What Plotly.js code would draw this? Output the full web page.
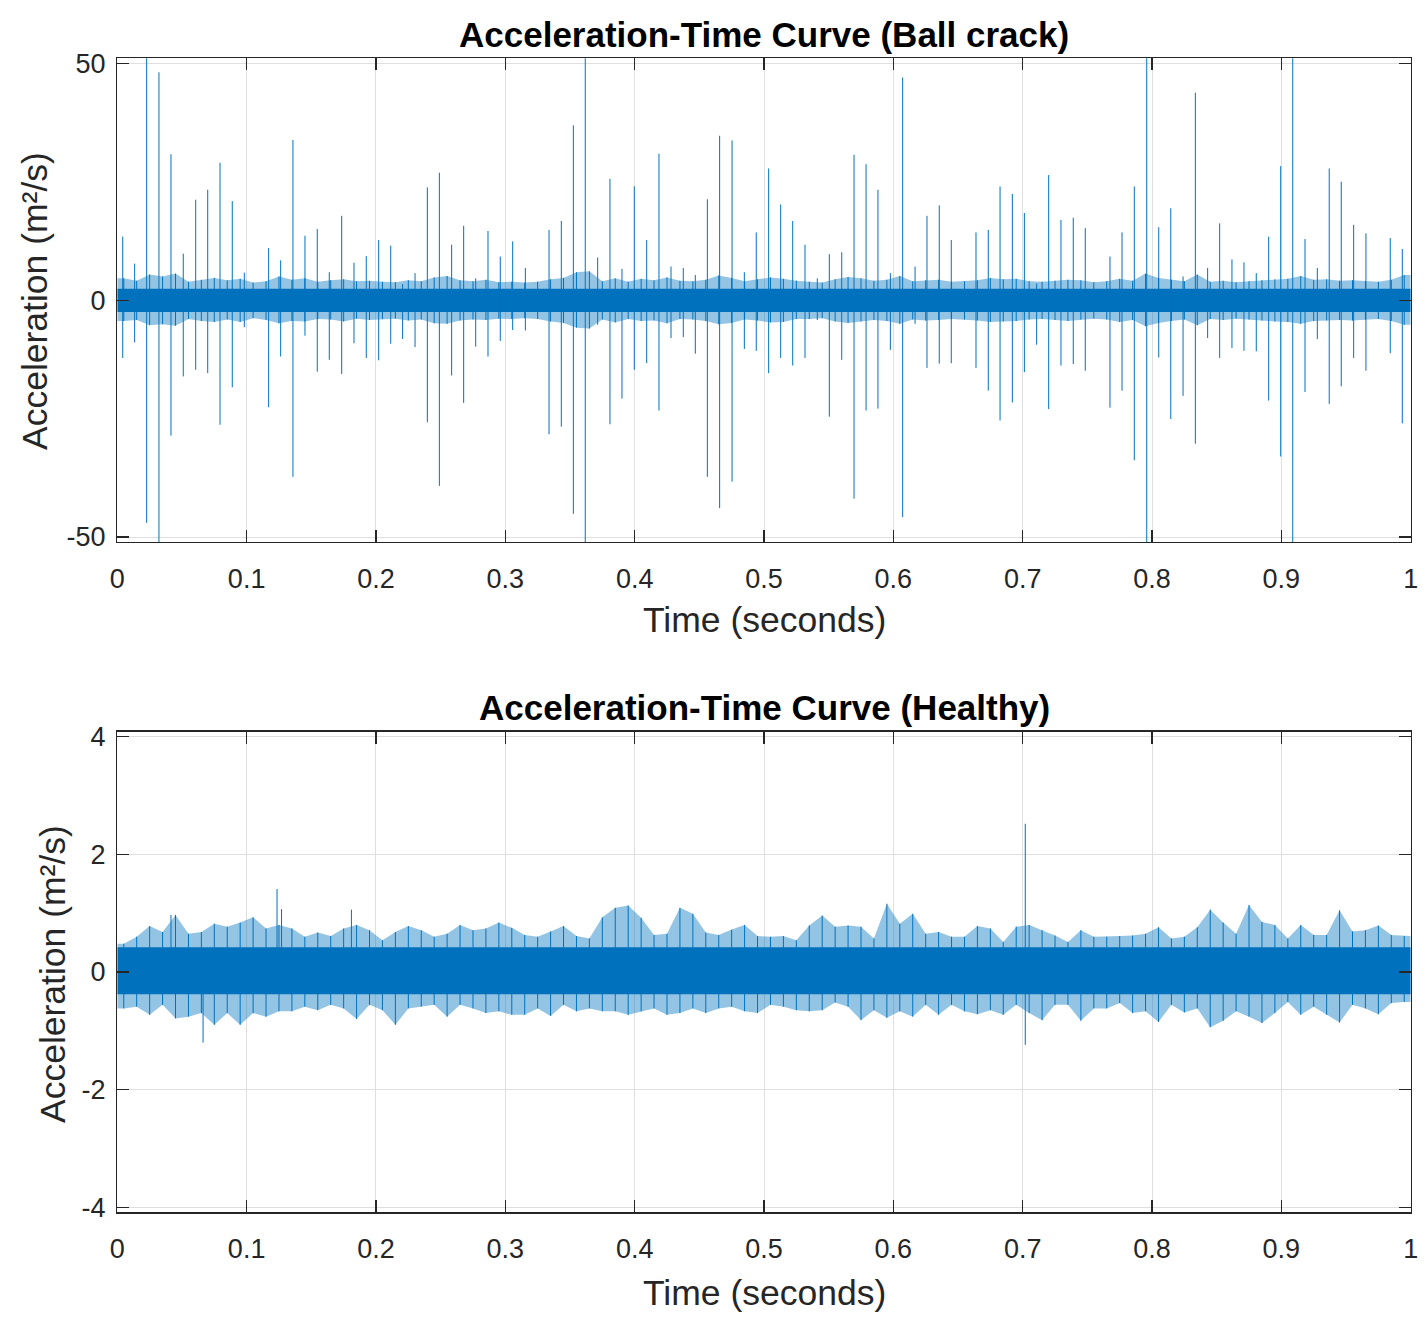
<!DOCTYPE html>
<html><head><meta charset="utf-8">
<script src="https://cdn.plot.ly/plotly-3.0.1.min.js"></script>
<style>html,body{margin:0;padding:0;background:#fff}#chart{width:1427px;height:1319px}</style>
</head><body><div id="chart"></div>
<script>
// ---------- data ----------
var titleTop = "Acceleration-Time Curve (Ball crack)";
var titleBottom = "Acceleration-Time Curve (Healthy)";
var xLabel = "Time (seconds)";
var yLabel = "Acceleration (m\u00B2/s)";
var xTickVals = [0,0.1,0.2,0.3,0.4,0.5,0.6,0.7,0.8,0.9,1];
var xTickText = ["0","0.1","0.2","0.3","0.4","0.5","0.6","0.7","0.8","0.9","1"];
var yTickValsTop = [-50,0,50];
var yTickTextTop = ["-50","0","50"];
var yTickValsBottom = [-4,-2,0,2,4];
var yTickTextBottom = ["-4","-2","0","2","4"];
var yRangeTop = [-51.05,51.05];
var yRangeBottom = [-4.09,4.09];
var binWidth = 0.01; // envelope bins, seconds

// Ball crack: impulse times (s), positive and negative peaks (clipped ones set beyond range)
var crackTimes = [0.0042,0.0134,0.0227,0.0322,0.0415,0.0510,0.0606,0.0699,0.0794,0.0889,0.0982,0.1170,0.1263,0.1358,0.1451,0.1546,0.1639,0.1735,0.1830,0.1925,0.2021,0.2114,0.2206,0.2302,0.2397,0.2490,0.2585,0.2678,0.2771,0.2866,0.2961,0.3057,0.3155,0.3338,0.3433,0.3526,0.3618,0.3714,0.3809,0.3902,0.3997,0.4093,0.4188,0.4281,0.4376,0.4469,0.4562,0.4657,0.4753,0.4848,0.4940,0.5036,0.5129,0.5222,0.5317,0.5412,0.5505,0.5601,0.5696,0.5789,0.5881,0.5977,0.6072,0.6168,0.6260,0.6355,0.6448,0.6639,0.6734,0.6825,0.6920,0.7013,0.7108,0.7201,0.7296,0.7391,0.7484,0.7675,0.7768,0.7863,0.7959,0.8052,0.8145,0.8240,0.8335,0.8430,0.8523,0.8618,0.8711,0.8806,0.8902,0.8995,0.9088,0.9183,0.9278,0.9370,0.9463,0.9559,0.9654,0.9842,0.9935];
var crackHigh = [13.4,7.7,58,48.1,30.8,9.8,21.2,23.3,29.0,20.9,5.8,11.0,8.4,33.8,13.6,15.0,5.9,17.8,7.9,9.3,12.7,11.5,3.4,5.7,23.8,26.9,11.7,15.7,4.6,14.6,9.2,12.4,6.8,14.8,16.7,36.9,58,9.0,25.6,6.6,24.0,12.7,30.9,7.1,6.8,5.3,21.3,34.7,33.7,5.9,14.3,27.8,20.2,16.7,11.7,4.6,9.7,10.1,30.7,28.7,23.3,5.7,47.0,7.1,17.8,20.0,12.7,14.3,14.8,24.0,22.4,18.4,3.5,26.4,16.9,17.4,15.2,9.2,14.3,24.0,58,15.4,19.4,5.0,43.8,6.8,16.2,8.6,8.0,5.7,13.4,28.3,58,12.9,6.8,27.8,25.0,15.9,14.1,13.1,10.8];
var crackLow = [-12.2,-8.9,-47.0,-58,-28.6,-16.1,-14.7,-15.4,-26.3,-18.4,-5.7,-22.6,-11.9,-37.3,-7.5,-15.1,-12.6,-15.6,-9.1,-12.2,-12.7,-9.2,-8.2,-9.9,-25.8,-39.2,-15.9,-21.7,-9.8,-11.9,-8.6,-6.3,-6.4,-28.3,-26.7,-45.1,-58,-5.2,-26.2,-20.8,-14.7,-13.3,-23.3,-8.0,-7.8,-11.3,-37.3,-43.9,-38.3,-10.3,-10.7,-15.4,-12.2,-13.8,-12.2,-4.2,-24.6,-12.6,-41.9,-23.3,-22.9,-10.5,-45.8,-5.0,-14.3,-13.4,-13.3,-14.3,-19.1,-25.4,-21.6,-15.2,-9.4,-23.0,-13.8,-13.5,-14.9,-22.7,-19.1,-33.8,-58,-12.1,-25.1,-20.2,-30.3,-8.0,-12.2,-10.1,-10.7,-10.8,-21.2,-33.0,-58,-19.4,-8.2,-21.9,-18.2,-12.2,-14.9,-11.2,-26.0];
// Ball crack: background noise, dense core and per-bin envelope (0.01 s bins)
var crackCore = [-2.5,2.4];
var crackEnvUp = [4.6,4.1,5.4,5.0,5.6,3.9,4.3,4.7,4.2,4.5,3.7,4.0,5.0,4.3,4.6,3.9,4.2,4.4,4.0,4.1,3.9,3.8,4.2,4.0,4.8,5.1,4.2,4.0,4.3,3.8,3.9,3.7,3.9,4.4,4.7,5.9,6.1,4.0,4.6,3.9,4.5,4.2,4.8,4.1,4.0,4.3,5.2,4.7,4.0,4.4,4.8,4.5,4.1,3.9,3.7,4.4,4.9,4.6,4.1,4.3,5.1,4.0,4.2,4.3,3.9,4.0,4.2,4.7,4.4,4.5,4.0,3.9,4.1,4.3,4.2,3.8,4.0,4.5,4.1,5.6,4.7,4.3,4.0,5.4,3.9,4.1,3.8,4.0,4.2,4.4,4.5,5.1,4.3,4.4,4.1,4.2,4.0,3.9,4.3,5.3];
var crackEnvLo = [-4.4,-4.2,-5.3,-5.1,-5.4,-4.0,-4.4,-4.6,-4.1,-4.6,-3.8,-4.2,-4.9,-4.4,-4.5,-4.0,-4.1,-4.5,-3.9,-4.2,-4.0,-3.9,-4.3,-4.1,-4.9,-5.0,-4.3,-4.1,-4.2,-3.9,-4.0,-3.8,-4.0,-4.5,-4.8,-5.8,-6.0,-4.1,-4.7,-4.0,-4.4,-4.3,-4.9,-4.0,-4.1,-4.4,-5.1,-4.8,-4.1,-4.3,-4.7,-4.6,-4.0,-4.0,-3.8,-4.5,-4.8,-4.5,-4.2,-4.4,-5.0,-4.1,-4.3,-4.2,-4.0,-4.1,-4.3,-4.6,-4.5,-4.4,-4.1,-4.0,-4.2,-4.4,-4.1,-3.9,-4.1,-4.6,-4.2,-5.5,-4.8,-4.4,-4.1,-5.3,-4.0,-4.2,-3.9,-4.1,-4.3,-4.5,-4.6,-5.0,-4.4,-4.3,-4.2,-4.3,-4.1,-4.0,-4.4,-5.2];

// Healthy: per-bin envelope (0.01 s bins), dense core, and isolated spikes
var healthyCore = [-0.38,0.42];
var healthyEnvUp = [0.48,0.60,0.78,0.68,0.97,0.65,0.68,0.82,0.77,0.84,0.93,0.74,0.80,0.74,0.60,0.67,0.61,0.74,0.80,0.71,0.54,0.68,0.78,0.71,0.60,0.65,0.80,0.71,0.74,0.84,0.75,0.63,0.60,0.69,0.78,0.61,0.57,0.93,1.09,1.13,0.92,0.63,0.65,1.09,0.99,0.67,0.63,0.72,0.80,0.61,0.60,0.61,0.54,0.79,0.96,0.77,0.79,0.77,0.57,1.16,0.82,0.99,0.65,0.68,0.60,0.60,0.78,0.74,0.51,0.77,0.80,0.71,0.62,0.51,0.71,0.60,0.60,0.61,0.62,0.65,0.76,0.57,0.60,0.76,1.06,0.84,0.65,1.14,0.85,0.80,0.57,0.80,0.63,0.63,1.05,0.69,0.71,0.79,0.63,0.61];
var healthyEnvLo = [-0.62,-0.59,-0.73,-0.56,-0.79,-0.76,-0.70,-0.90,-0.70,-0.90,-0.70,-0.76,-0.67,-0.67,-0.59,-0.65,-0.56,-0.62,-0.80,-0.56,-0.65,-0.90,-0.62,-0.59,-0.56,-0.76,-0.56,-0.62,-0.70,-0.67,-0.73,-0.73,-0.62,-0.75,-0.56,-0.67,-0.62,-0.67,-0.67,-0.73,-0.67,-0.62,-0.73,-0.70,-0.62,-0.70,-0.62,-0.59,-0.67,-0.70,-0.56,-0.59,-0.65,-0.67,-0.65,-0.52,-0.59,-0.82,-0.65,-0.78,-0.67,-0.76,-0.56,-0.73,-0.56,-0.67,-0.72,-0.65,-0.73,-0.56,-0.70,-0.82,-0.56,-0.56,-0.83,-0.62,-0.62,-0.53,-0.70,-0.67,-0.85,-0.56,-0.69,-0.62,-0.94,-0.83,-0.67,-0.76,-0.87,-0.70,-0.51,-0.73,-0.59,-0.73,-0.86,-0.56,-0.62,-0.72,-0.53,-0.51];
var healthySpikeTimes = [0.0415,0.0663,0.1235,0.1270,0.1810,0.7020];
var healthySpikeHigh = [0.97,0.30,1.41,1.07,1.06,2.52];
var healthySpikeLow = [-0.30,-1.20,-0.30,-0.30,-0.30,-1.24];

// ---------- build traces ----------
var BLUE = "#0072BD";
function binCenters(n){ var c=[]; for(var i=0;i<n;i++) c.push((i+0.5)*binWidth); return c; }
function coreTrace(core, xa, ya){
  return {x:[0,1,1,0,0], y:[core[1],core[1],core[0],core[0],core[1]], xaxis:xa, yaxis:ya,
    mode:"lines", fill:"toself", fillcolor:BLUE, line:{width:0,color:BLUE}, hoverinfo:"skip", showlegend:false};
}
function envTrace(up, lo, xa, ya){
  var c = binCenters(up.length);
  var xs=[0].concat(c,[1],[1],c.slice().reverse(),[0]);
  var ys=[up[0]].concat(up,[up[up.length-1]],[lo[lo.length-1]],lo.slice().reverse(),[lo[0]]);
  return {x:xs, y:ys, xaxis:xa, yaxis:ya, mode:"lines", fill:"toself",
    fillcolor:"rgba(0,114,189,0.42)", line:{width:0,color:"rgba(0,114,189,0)"}, hoverinfo:"skip", showlegend:false};
}
function strokeTrace(times, hi, lo, xa, ya, w, col){
  var xs=[], ys=[];
  for(var i=0;i<times.length;i++){ xs.push(times[i],times[i],null); ys.push(lo[i],hi[i],null); }
  return {x:xs, y:ys, xaxis:xa, yaxis:ya, mode:"lines", line:{width:w,color:col}, hoverinfo:"skip", showlegend:false, connectgaps:false};
}
var traces = [
  envTrace(crackEnvUp, crackEnvLo, "x","y"),
  coreTrace(crackCore,"x","y"),
  strokeTrace(binCenters(crackEnvUp.length), crackEnvUp, crackEnvLo, "x","y",1,BLUE),
  strokeTrace(crackTimes, crackHigh, crackLow, "x","y",1,BLUE),
  envTrace(healthyEnvUp, healthyEnvLo, "x2","y2"),
  coreTrace(healthyCore,"x2","y2"),
  strokeTrace(binCenters(healthyEnvUp.length), healthyEnvUp, healthyEnvLo, "x2","y2",1,BLUE),
  strokeTrace(healthySpikeTimes, healthySpikeHigh, healthySpikeLow, "x2","y2",1,BLUE)
];

// ---------- layout ----------
var W=1427, H=1319;
var FONT = "Liberation Sans, Arial, Helvetica, sans-serif";
var INK = "#262626";
function px(v){ return v/W; } function py(v){ return 1 - v/H; }
function xAxis(domainAnchor){
  return {domain:[px(117.3),px(1410.7)], range:[0,1], anchor:domainAnchor, tickmode:"array",
    tickvals:xTickVals, ticktext:xTickText, ticks:"inside", ticklen:12, tickwidth:1.2, tickcolor:INK,
    showline:true, linecolor:INK, linewidth:1.3, mirror:"ticks", showgrid:true, gridcolor:"#dfdfdf", gridwidth:1,
    zeroline:false, tickfont:{family:FONT,size:27,color:INK}, ticklabelstandoff:12, fixedrange:true};
}
function yAxis(domain, range, tv, tt, anchor){
  return {domain:domain, range:range, anchor:anchor, tickmode:"array", tickvals:tv, ticktext:tt,
    ticks:"inside", ticklen:12, tickwidth:1.2, tickcolor:INK, showline:true, linecolor:INK, linewidth:1.3,
    mirror:"ticks", showgrid:true, gridcolor:"#dfdfdf", gridwidth:1, zeroline:false,
    tickfont:{family:FONT,size:27,color:INK}, ticklabelstandoff:5, fixedrange:true};
}
function ann(text, x, y, size, bold, angle){
  return {text: text, xref:"paper", yref:"paper", x:x, y:y,
    xanchor:"center", yanchor:"middle", showarrow:false, textangle:angle||0,
    font:{family:FONT,size:size,weight: bold ? 700 : 400, color: bold ? "#000000" : INK}};
}
var layout = {
  width:W, height:H, margin:{l:0,r:0,t:0,b:0}, paper_bgcolor:"#ffffff", plot_bgcolor:"#ffffff",
  showlegend:false,
  xaxis: xAxis("y"),
  yaxis: yAxis([py(542),py(58.3)], yRangeTop, yTickValsTop, yTickTextTop, "x"),
  xaxis2: xAxis("y2"),
  yaxis2: yAxis([py(1212.4),py(731.5)], yRangeBottom, yTickValsBottom, yTickTextBottom, "x2"),
  annotations:[
    ann(titleTop, px(764), py(34), 35, true),
    ann(titleBottom, px(764), py(707), 35, true),
    ann(xLabel, px(764), py(620), 35.5, false),
    ann(xLabel, px(764), py(1293), 35.5, false),
    ann(yLabel, px(35), py(301), 35.5, false, -90),
    ann(yLabel, px(53), py(974), 35.5, false, -90)
  ]
};
Plotly.newPlot("chart", traces, layout, {displayModeBar:false, staticPlot:true});
</script></body></html>
